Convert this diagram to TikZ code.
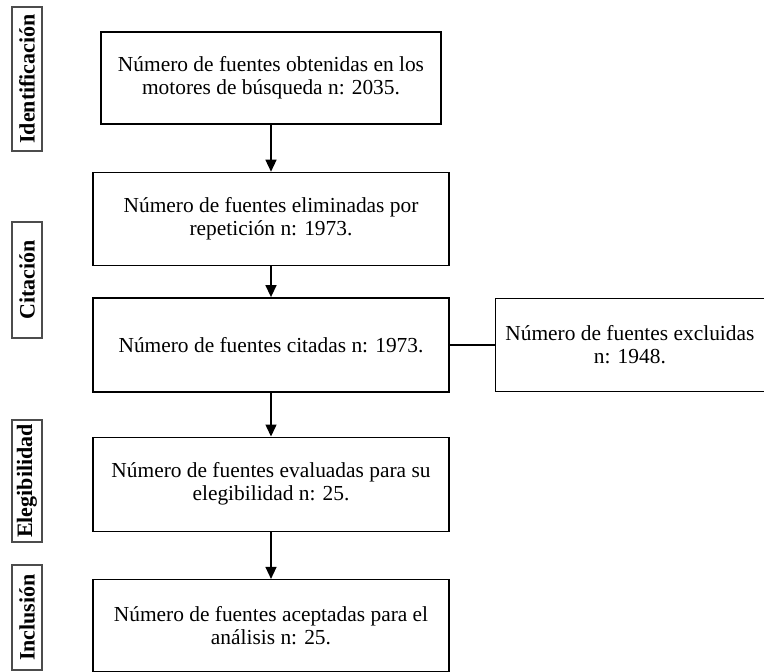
\documentclass[tikz,border=0pt]{standalone}
\usepackage{fontspec}
\setmainfont{Liberation Serif}
\usetikzlibrary{positioning, arrows.meta}

\begin{document}
\begin{tikzpicture}[
    x=0.5pt, y=-0.5pt,
    % --- ESTILOS ---
    caja/.style={
            draw=black,
            line width=0.7pt,
            align=center,
            minimum width=178pt,
            minimum height=46.5pt,
            inner sep=2pt,
            font=\fontsize{10.7}{11.5}\selectfont
        },
    fase/.style={
            draw=black!70,
            line width=0.6pt,
            rotate=90,
            minimum height=15pt,
            inner sep=1pt,
            font=\fontsize{11}{12}\selectfont\bfseries
        },
    flujo/.style={
    -{Triangle[length=6pt, width=5.5pt]},
    line width=0.7pt,
    color=black
    }
    ]

    \useasboundingbox (0,0) rectangle (764,671);

    % 1. Columna principal
    \node[caja, minimum width=170pt, minimum height=46pt] (obtenidas) at (271,78)
        {Número de fuentes obtenidas en los\\motores de búsqueda n: 2035.};
    \node[caja, below=23.5pt of obtenidas] (eliminadas)
        {Número de fuentes eliminadas por\\repetición n: 1973.};
    \node[caja, below=15.5pt of eliminadas, minimum height=47pt] (citadas)
        {Número de fuentes citadas n: 1973.};
    \node[caja, below=22pt of citadas, minimum height=47pt] (evaluadas)
        {Número de fuentes evaluadas para su\\elegibilidad n: 25.};
    \node[caja, below=23.5pt of evaluadas, minimum height=46pt] (aceptadas)
        {Número de fuentes aceptadas para el\\análisis n: 25.};

    % 2. Caja lateral de excluidas
    \node[caja, right=22.5pt of citadas, minimum width=134.5pt] (excluidas)
        {Número de fuentes excluidas\\n: 1948.};

    % 3. Fases a la izquierda
    \node[fase, minimum width=72pt] (identificacion) at (27,79) {Identificación};
    \node[fase, minimum width=58pt] (citacion) at (27,280) {Citación};
    \node[fase, minimum width=61pt] (elegibilidad) at (27,481) {Elegibilidad};
    \node[fase, minimum width=52.5pt] (inclusion) at (27,617.5) {Inclusión};

    % 4. Conexiones
    \draw[flujo] (obtenidas) -- (eliminadas);
    \draw[flujo] (eliminadas) -- (citadas);
    \draw[flujo] (citadas) -- (evaluadas);
    \draw[flujo] (evaluadas) -- (aceptadas);
    \draw[line width=0.7pt] (citadas) -- (excluidas);

\end{tikzpicture}
\end{document}
